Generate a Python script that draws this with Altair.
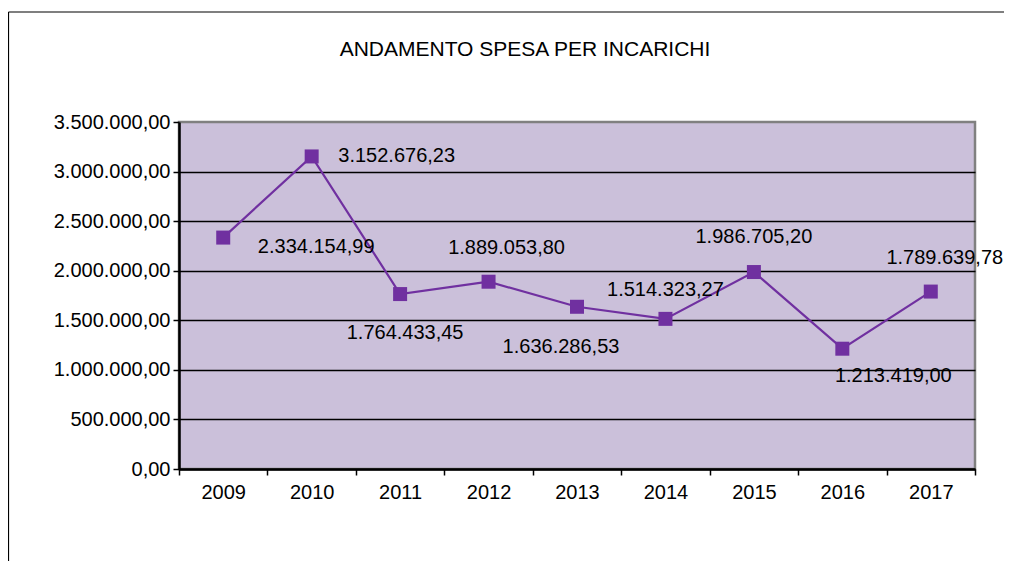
import altair as alt
import pandas as pd

# ---- data ----
years = ["2009", "2010", "2011", "2012", "2013", "2014", "2015", "2016", "2017"]
spesa = [2334154.99, 3152676.23, 1764433.45, 1889053.80, 1636286.53,
         1514323.27, 1986705.20, 1213419.00, 1789639.78]
y_ticks = [0, 500000, 1000000, 1500000, 2000000, 2500000, 3000000, 3500000]
title_text = "ANDAMENTO SPESA PER INCARICHI"

# ---- label placement (pixel offsets from each point) ----
label_dx = [93, 85, 5, 18, -16, 0, 0, 51, 14]
label_dy = [9, 0, 39, -34, 40, -29, -35, 27, -34]

W, H = 796, 347
FONT = "Liberation Sans"
PURPLE = "#7030A0"

df = pd.DataFrame({"anno": years, "spesa": spesa})

x_enc = alt.X("anno:N", sort=years, title=None,
              scale=alt.Scale(paddingInner=0, paddingOuter=0),
              axis=alt.Axis(labelAngle=0, labelFont=FONT, labelFontSize=20,
                            labelColor="#000000", labelPadding=7,
                            tickBand="extent", tickSize=6, tickColor="#000000",
                            tickWidth=1.5, domainColor="#000000", domainWidth=2.5,
                            grid=False))
y_scale = alt.Scale(domain=[0, 3500000], nice=False)
y_enc = alt.Y("spesa:Q", title=None, scale=y_scale,
              axis=alt.Axis(values=y_ticks, format=",.2f", labelFont=FONT,
                            labelFontSize=20, labelColor="#000000", labelPadding=3,
                            tickSize=6, tickColor="#000000", tickWidth=1.5,
                            domainColor="#000000", domainWidth=2.5,
                            grid=True, gridWidth=1.3,
                            gridColor={"condition": {"test": "datum.value >= 3500000",
                                                     "value": "transparent"},
                                       "value": "#000000"}))

base = alt.Chart(df)

line = base.mark_line(color=PURPLE, strokeWidth=2.2).encode(x=x_enc, y=y_enc)
pts = base.mark_square(color=PURPLE, size=196, opacity=1).encode(x=x_enc, y=y_enc)

labels = []
for yr, dx, dy in zip(years, label_dx, label_dy):
    labels.append(
        base.transform_filter(alt.datum.anno == yr).mark_text(
            font=FONT, fontSize=20, color="#000000", dx=dx, dy=dy,
            align="center", baseline="middle"
        ).encode(x=x_enc, y=y_enc, text=alt.Text("spesa:Q", format=",.2f"))
    )

one = pd.DataFrame({"t": [title_text]})
title = alt.Chart(one).mark_text(
    font=FONT, fontSize=21, color="#000000", align="center", baseline="middle"
).encode(text="t:N", x=alt.value(346), y=alt.value(-72))

frame_top = alt.Chart(one).mark_rule(color="#000000", strokeWidth=1.2).encode(
    x=alt.value(-170.5), x2=alt.value(900), y=alt.value(-110))
frame_left = alt.Chart(one).mark_rule(color="#000000", strokeWidth=1.2).encode(
    x=alt.value(-170.5), y=alt.value(-110), y2=alt.value(460))

chart = alt.layer(line, pts, *labels, title, frame_top, frame_left).properties(
    width=W, height=H, autosize="none",
    padding={"left": 171, "top": 114, "right": 29, "bottom": 92},
    background="#FFFFFF",
).configure(
    locale={"number": {"decimal": ",", "thousands": ".", "grouping": [3],
                       "currency": ["", " €"]}}
).configure_view(
    fill="#CBC0DA", stroke="#808080", strokeWidth=2.5
)

chart.save("out.html", embed_options={"renderer": "svg", "actions": False})
